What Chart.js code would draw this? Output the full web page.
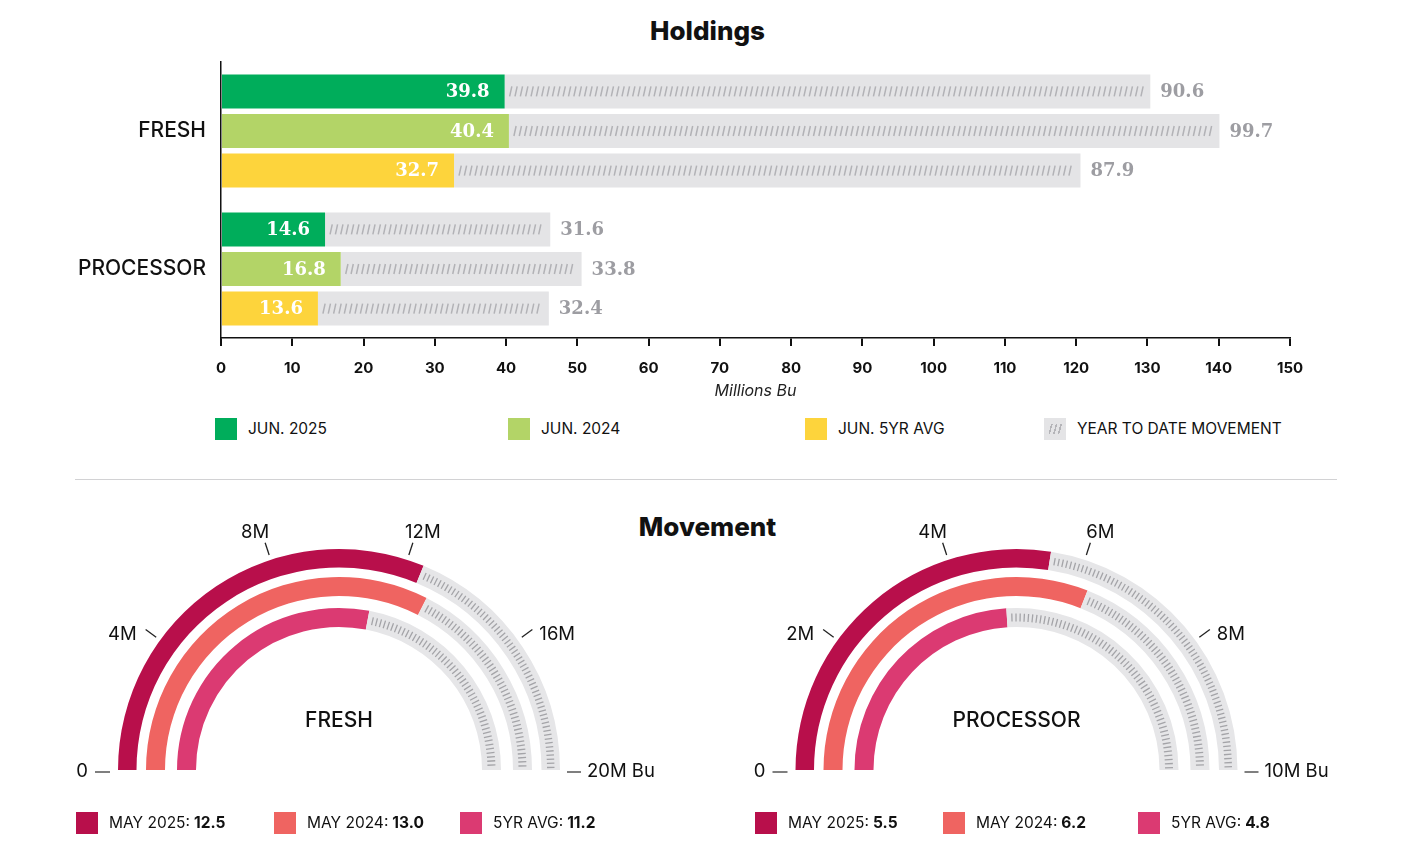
<!DOCTYPE html>
<html>
<head>
<meta charset="utf-8">
<script src="https://cdn.jsdelivr.net/npm/chart.js@4.4.1/dist/chart.umd.min.js"></script>
<style>
  body { margin: 0; background: #fff; font-family: Inter, "Noto Sans", sans-serif; color: #111; }
  #pagina { position: relative; width: 1415px; height: 845px; overflow: hidden; }
  canvas { position: absolute; }
  .titulo { position: absolute; left: 0; width: 1415px; text-align: center; font-weight: 800; font-size: 26px; line-height: 30px; }
  .regua { position: absolute; left: 75px; top: 479px; width: 1262px; height: 1px; background: #d2d2d4; }
  .leg { position: absolute; display: flex; align-items: center; font-size: 15.5px; line-height: 22px; white-space: nowrap; }
  .leg i { position: relative; display: inline-block; width: 22px; height: 22px; margin-right: 11px; }
  .leg i.hachura { background: #e4e4e6; }
  .leg i.hachura::after { content: ''; position: absolute; left: 4px; right: 4px; top: 6px; bottom: 6px;
    background: repeating-linear-gradient(105deg, transparent 0 3px, #b4b4b8 3px 4.5px); }
  .leg b { font-weight: 700; margin-left: 4px; }
</style>
</head>
<body>
<div id="pagina">
  <div class="titulo" style="top:16px">Holdings</div>
  <canvas id="barras" width="1415" height="410" style="left:0;top:0"></canvas>
  <div id="legendaBarras"></div>
  <div class="regua"></div>
  <div class="titulo" style="top:512px">Movement</div>
  <canvas id="gaugeFresh" width="700" height="345" style="left:0;top:500px"></canvas>
  <canvas id="gaugeProcessor" width="715" height="345" style="left:700px;top:500px"></canvas>
  <div id="legendaGauges"></div>
</div>

<script>
// ---- dados: Holdings ----
const categorias = ['FRESH', 'PROCESSOR'];
const jun2025 = [39.8, 14.6];
const jun2024 = [40.4, 16.8];
const jun5yrAvg = [32.7, 13.6];
const ytd2025 = [90.6, 31.6];
const ytd2024 = [99.7, 33.8];
const ytd5yrAvg = [87.9, 32.4];
const legendaHoldings = ['JUN. 2025', 'JUN. 2024', 'JUN. 5YR AVG', 'YEAR TO DATE MOVEMENT'];

// ---- dados: Movement ----
const seriesMovement = ['MAY 2025', 'MAY 2024', '5YR AVG'];
const freshMovement = [12.5, 13.0, 11.2];
const processorMovement = [5.5, 6.2, 4.8];
const freshMax = 20;
const processorMax = 10;
const freshTicks = [4, 8, 12, 16];
const freshTickLabels = ['4M', '8M', '12M', '16M'];
const processorTicks = [2, 4, 6, 8];
const processorTickLabels = ['2M', '4M', '6M', '8M'];

const coresHoldings = ['#00ad5b', '#b3d467', '#fdd43c'];
const cinzaBarra = '#e4e4e6';
const coresMovement = ['#b80f4b', '#ef6461', '#db3a72'];
const cinzaArco = '#e6e6e8';

Chart.defaults.font.family = 'Inter, "Noto Sans", sans-serif';
Chart.defaults.color = '#111';
Chart.defaults.animation = false;

// rótulos dos valores + tracinhos nas barras cinzas
const rotulosBarras = {
  id: 'rotulosBarras',
  afterDatasetsDraw(chart) {
    const ctx = chart.ctx;
    chart.data.datasets.forEach((ds, i) => {
      const meta = chart.getDatasetMeta(i);
      meta.data.forEach((bar, j) => {
        const { x, y, base } = bar.getProps(['x', 'y', 'base'], true);
        ctx.save();
        ctx.font = 'bold 18px "DejaVu Serif", serif';
        ctx.textBaseline = 'middle';
        if (ds.ytd) {
          ctx.strokeStyle = '#b2b2b6';
          ctx.lineWidth = 1.5;
          ctx.beginPath();
          for (let px = base + 5; px < x - 8; px += 5.35) {
            ctx.moveTo(px, y + 5);
            ctx.lineTo(px + 2.2, y - 5);
          }
          ctx.stroke();
          ctx.fillStyle = '#9d9da2';
          ctx.textAlign = 'left';
          ctx.fillText(ds.data[j].toFixed(1), x + 10, y + 1);
        } else {
          ctx.fillStyle = '#fff';
          ctx.textAlign = 'right';
          ctx.fillText(ds.data[j].toFixed(1), x - 15, y + 1);
        }
        ctx.restore();
      });
    });
  }
};

new Chart(document.getElementById('barras'), {
  type: 'bar',
  data: {
    labels: categorias,
    datasets: [
      { label: legendaHoldings[0], data: jun2025, backgroundColor: coresHoldings[0], stack: 's1' },
      { label: legendaHoldings[1], data: jun2024, backgroundColor: coresHoldings[1], stack: 's2' },
      { label: legendaHoldings[2], data: jun5yrAvg, backgroundColor: coresHoldings[2], stack: 's3' },
      { label: legendaHoldings[3], data: ytd2025, backgroundColor: cinzaBarra, stack: 's1', ytd: true },
      { label: legendaHoldings[3], data: ytd2024, backgroundColor: cinzaBarra, stack: 's2', ytd: true },
      { label: legendaHoldings[3], data: ytd5yrAvg, backgroundColor: cinzaBarra, stack: 's3', ytd: true }
    ]
  },
  options: {
    indexAxis: 'y',
    responsive: false,
    categoryPercentage: 0.86,
    barPercentage: 0.86,
    borderWidth: 0,
    layout: { padding: { left: 0, right: 125, top: 62, bottom: 0 } },
    scales: {
      x: {
        stacked: true,
        min: 0,
        max: 150,
        ticks: { stepSize: 10, padding: 13, font: { size: 15, weight: 'bold' }, color: '#111' },
        grid: { drawOnChartArea: false, drawTicks: true, tickLength: 8, color: '#111', lineWidth: 2 },
        border: { display: true, color: '#111', width: 1.5 },
        title: { display: true, text: 'Millions Bu', font: { size: 16, style: 'italic' }, color: '#222', padding: { top: 0, bottom: 9 } },
        afterFit: (axis) => { axis.height = 72; }
      },
      y: {
        stacked: true,
        grid: { display: false, drawTicks: false },
        border: { display: true, color: '#111', width: 1.5 },
        ticks: { padding: 15, font: { size: 21, weight: '500' }, color: '#111' },
        afterFit: (axis) => { axis.width = 221; }
      }
    },
    plugins: { legend: { display: false }, tooltip: { enabled: false } }
  },
  plugins: [rotulosBarras]
});

// legenda HTML das barras
const posLegendaBarras = [215, 508, 805, 1044];
const divLegB = document.getElementById('legendaBarras');
legendaHoldings.forEach((txt, k) => {
  const el = document.createElement('div');
  el.className = 'leg';
  el.style.left = posLegendaBarras[k] + 'px';
  el.style.top = '418px';
  const caixa = k < 3 ? `<i style="background:${coresHoldings[k]}"></i>` : '<i class="hachura"></i>';
  el.innerHTML = caixa + txt;
  divLegB.appendChild(el);
});

// marcas, rótulos e hachura radial dos medidores
const marcasGauge = {
  id: 'marcasGauge',
  afterDatasetsDraw(chart, args, opts) {
    const ctx = chart.ctx;
    const ref = chart.getDatasetMeta(0).data[0];
    const cx = ref.x, cy = ref.y, rOut = ref.outerRadius;

    ctx.save();
    ctx.strokeStyle = '#a4a4a8';
    ctx.lineWidth = 1.3;
    chart.data.datasets.forEach((ds, i) => {
      const cinza = chart.getDatasetMeta(i).data[1];
      if (!cinza) return;
      const { startAngle, endAngle, innerRadius, outerRadius } = cinza;
      const rMeio = (innerRadius + outerRadius) / 2;
      const passo = 4.1 / rMeio;
      ctx.beginPath();
      for (let a = startAngle + 5 / rMeio; a <= endAngle - 2 / rMeio; a += passo) {
        ctx.moveTo(cx + Math.cos(a) * (innerRadius + 5.5), cy + Math.sin(a) * (innerRadius + 5.5));
        ctx.lineTo(cx + Math.cos(a) * (outerRadius - 5.5), cy + Math.sin(a) * (outerRadius - 5.5));
      }
      ctx.stroke();
    });
    ctx.restore();

    ctx.save();
    ctx.strokeStyle = '#222';
    ctx.lineWidth = 1.3;
    ctx.fillStyle = '#111';
    ctx.font = '18.5px Inter, "Noto Sans", sans-serif';
    ctx.textBaseline = 'middle';
    opts.marcas.forEach((v, k) => {
      const a = -Math.PI + (v / opts.max) * Math.PI;
      const c = Math.cos(a), s = Math.sin(a);
      const px = cx + c * (rOut + 18), py = cy + s * (rOut + 18);
      ctx.beginPath();
      ctx.moveTo(cx + c * (rOut + 5), cy + s * (rOut + 5));
      ctx.lineTo(px, py);
      ctx.stroke();
      if (Math.abs(c) > 0.6) {
        ctx.textAlign = c < 0 ? 'right' : 'left';
        ctx.fillText(opts.rotulos[k], px + (c < 0 ? -9 : 7), py + 5);
      } else {
        ctx.textAlign = 'center';
        ctx.fillText(opts.rotulos[k], px + (c < 0 ? -10 : 10), py - 10);
      }
    });
    // base: 0 — e — máximo
    ctx.strokeStyle = '#555';
    ctx.lineWidth = 1.5;
    ctx.beginPath();
    ctx.moveTo(cx - rOut - 23, cy + 2); ctx.lineTo(cx - rOut - 8, cy + 2);
    ctx.moveTo(cx + rOut + 7, cy + 2); ctx.lineTo(cx + rOut + 21, cy + 2);
    ctx.stroke();
    ctx.textAlign = 'right';
    ctx.fillText('0', cx - rOut - 30, cy + 1);
    ctx.textAlign = 'left';
    ctx.fillText(opts.fim, cx + rOut + 27, cy + 1);
    // título central
    ctx.textAlign = 'center';
    ctx.font = '500 21px Inter, "Noto Sans", sans-serif';
    ctx.fillText(opts.titulo, cx, cy - 49);
    ctx.restore();
  }
};

// espessuras dos anéis (externo -> interno) e folgas entre eles
const pesosAneis = [18.5, 19, 19];
const pesosFolgas = [9.5, 12];

function montarGauge(idCanvas, valores, max, marcas, rotulos, fim, titulo, padding) {
  const datasets = [];
  valores.forEach((v, k) => {
    datasets.push({
      label: seriesMovement[k],
      data: [v, max - v],
      backgroundColor: [coresMovement[k], cinzaArco],
      weight: pesosAneis[k]
    });
    if (k < pesosFolgas.length) datasets.push({ data: [], weight: pesosFolgas[k] });
  });
  return new Chart(document.getElementById(idCanvas), {
    type: 'doughnut',
    data: { labels: ['valor', 'resto'], datasets },
    options: {
      responsive: false,
      rotation: -90,
      circumference: 180,
      cutout: (143 / 221 * 100) + '%',
      borderWidth: 0,
      spacing: 0,
      hoverOffset: 0,
      layout: { padding },
      plugins: {
        legend: { display: false },
        tooltip: { enabled: false },
        marcasGauge: { max, marcas, rotulos, fim, titulo }
      }
    },
    plugins: [marcasGauge]
  });
}

montarGauge('gaugeFresh', freshMovement, freshMax, freshTicks, freshTickLabels, '20M Bu', 'FRESH',
  { left: 118, right: 140, top: 49, bottom: 75 });
montarGauge('gaugeProcessor', processorMovement, processorMax, processorTicks, processorTickLabels, '10M Bu', 'PROCESSOR',
  { left: 95.5, right: 177.5, top: 49, bottom: 75 });

// legendas dos medidores
const posLegGauges = [[76, 274, 460], [755, 943, 1138]];
const valoresLeg = [freshMovement, processorMovement];
const divLegG = document.getElementById('legendaGauges');
posLegGauges.forEach((linha, g) => {
  linha.forEach((px, k) => {
    const el = document.createElement('div');
    el.className = 'leg';
    el.style.left = px + 'px';
    el.style.top = '812px';
    el.innerHTML = `<i style="background:${coresMovement[k]}"></i>${seriesMovement[k]}:<b>${valoresLeg[g][k].toFixed(1)}</b>`;
    divLegG.appendChild(el);
  });
});
</script>
</body>
</html>
